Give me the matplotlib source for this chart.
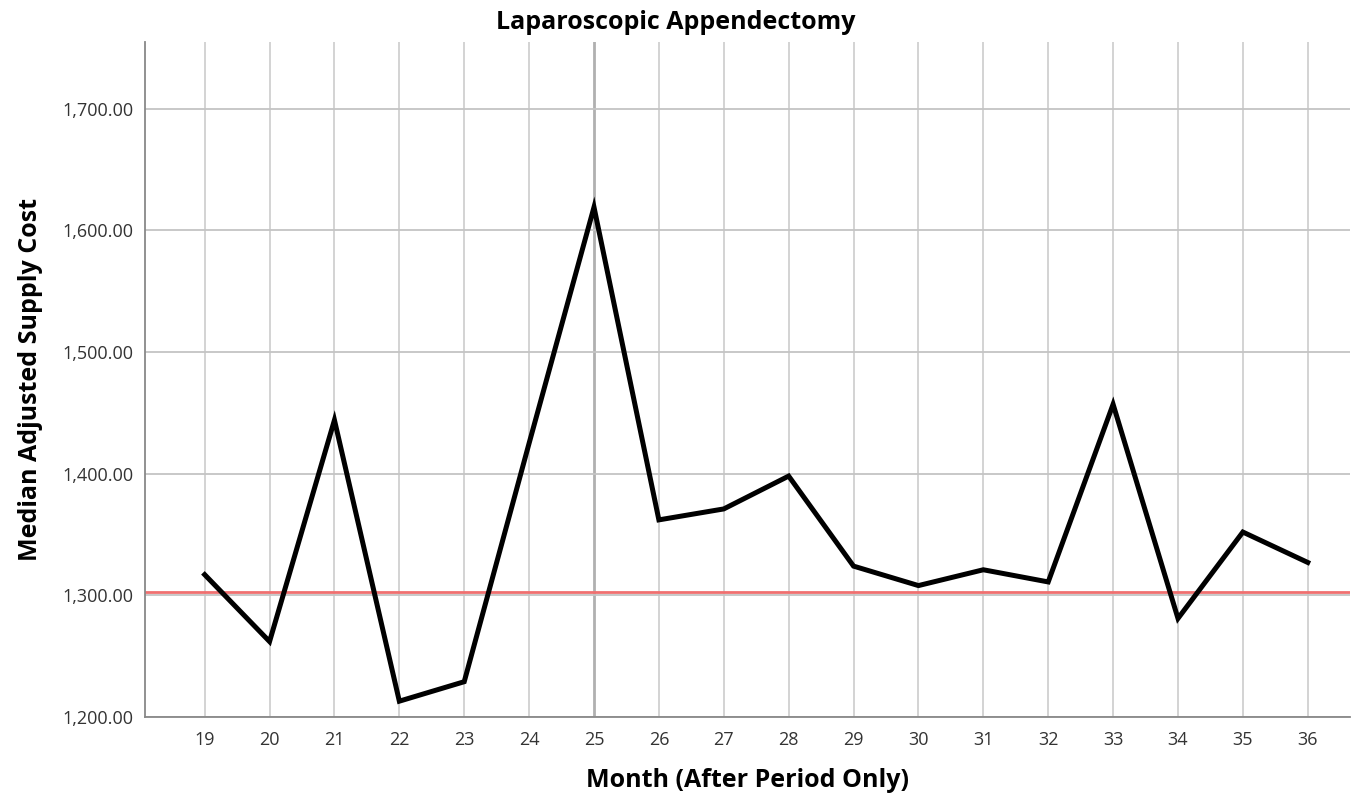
import matplotlib.pyplot as plt
from matplotlib.ticker import FuncFormatter

# median adjusted supply cost per month (after period)
months = [19, 20, 21, 22, 23, 24, 25, 26, 27, 28, 29, 30, 31, 32, 33, 34, 35, 36]
medianCost = [1317, 1262, 1444, 1213, 1229, 1425, 1619, 1362, 1371, 1398, 1324,
              1308, 1321, 1311, 1457, 1281, 1352, 1327]
baseline = 1303  # red reference line
yTicks = [1200, 1300, 1400, 1500, 1600, 1700]

plt.rcParams['font.family'] = ['Open Sans', 'DejaVu Sans']

fig = plt.figure(figsize=(13.6, 8.02), dpi=100)
ax = fig.add_axes([0.1066, 0.106, 0.886, 0.842])

for m in months:
    if m == 25:
        ax.axvline(m, color='#b0b0b0', lw=2, zorder=1)
    else:
        ax.axvline(m, color='#d0d0d0', lw=1.3, zorder=1)
for t in yTicks:
    ax.axhline(t, color='#c4c4c4', lw=1.3, zorder=1)

ax.axhline(baseline, color='#f07070', lw=2, zorder=2)
ax.plot(months, medianCost, color='black', lw=3.6, zorder=3, solid_joinstyle='miter')

ax.set_xlim(18.08, 36.65)
ax.set_ylim(1200, 1755)
ax.set_xticks(months)
ax.set_yticks(yTicks)
ax.yaxis.set_major_formatter(FuncFormatter(lambda v, p: f"{v:,.2f}"))
ax.tick_params(length=0, labelsize=13, colors='#333333')
ax.tick_params(axis='y', pad=8)
ax.tick_params(axis='x', pad=10)

for s in ['top', 'right']:
    ax.spines[s].set_visible(False)
for s in ['left', 'bottom']:
    ax.spines[s].set_color('#888888')
    ax.spines[s].set_linewidth(1.3)

fig.text(0.497, 0.972, "Laparoscopic Appendectomy", fontsize=18, fontweight='bold',
         ha='center', va='center')
ax.set_xlabel("Month (After Period Only)", fontsize=18, fontweight='bold', labelpad=14)
ax.set_ylabel("Median Adjusted Supply Cost", fontsize=18, fontweight='bold', labelpad=14)

fig.savefig("out.png", dpi=100)
